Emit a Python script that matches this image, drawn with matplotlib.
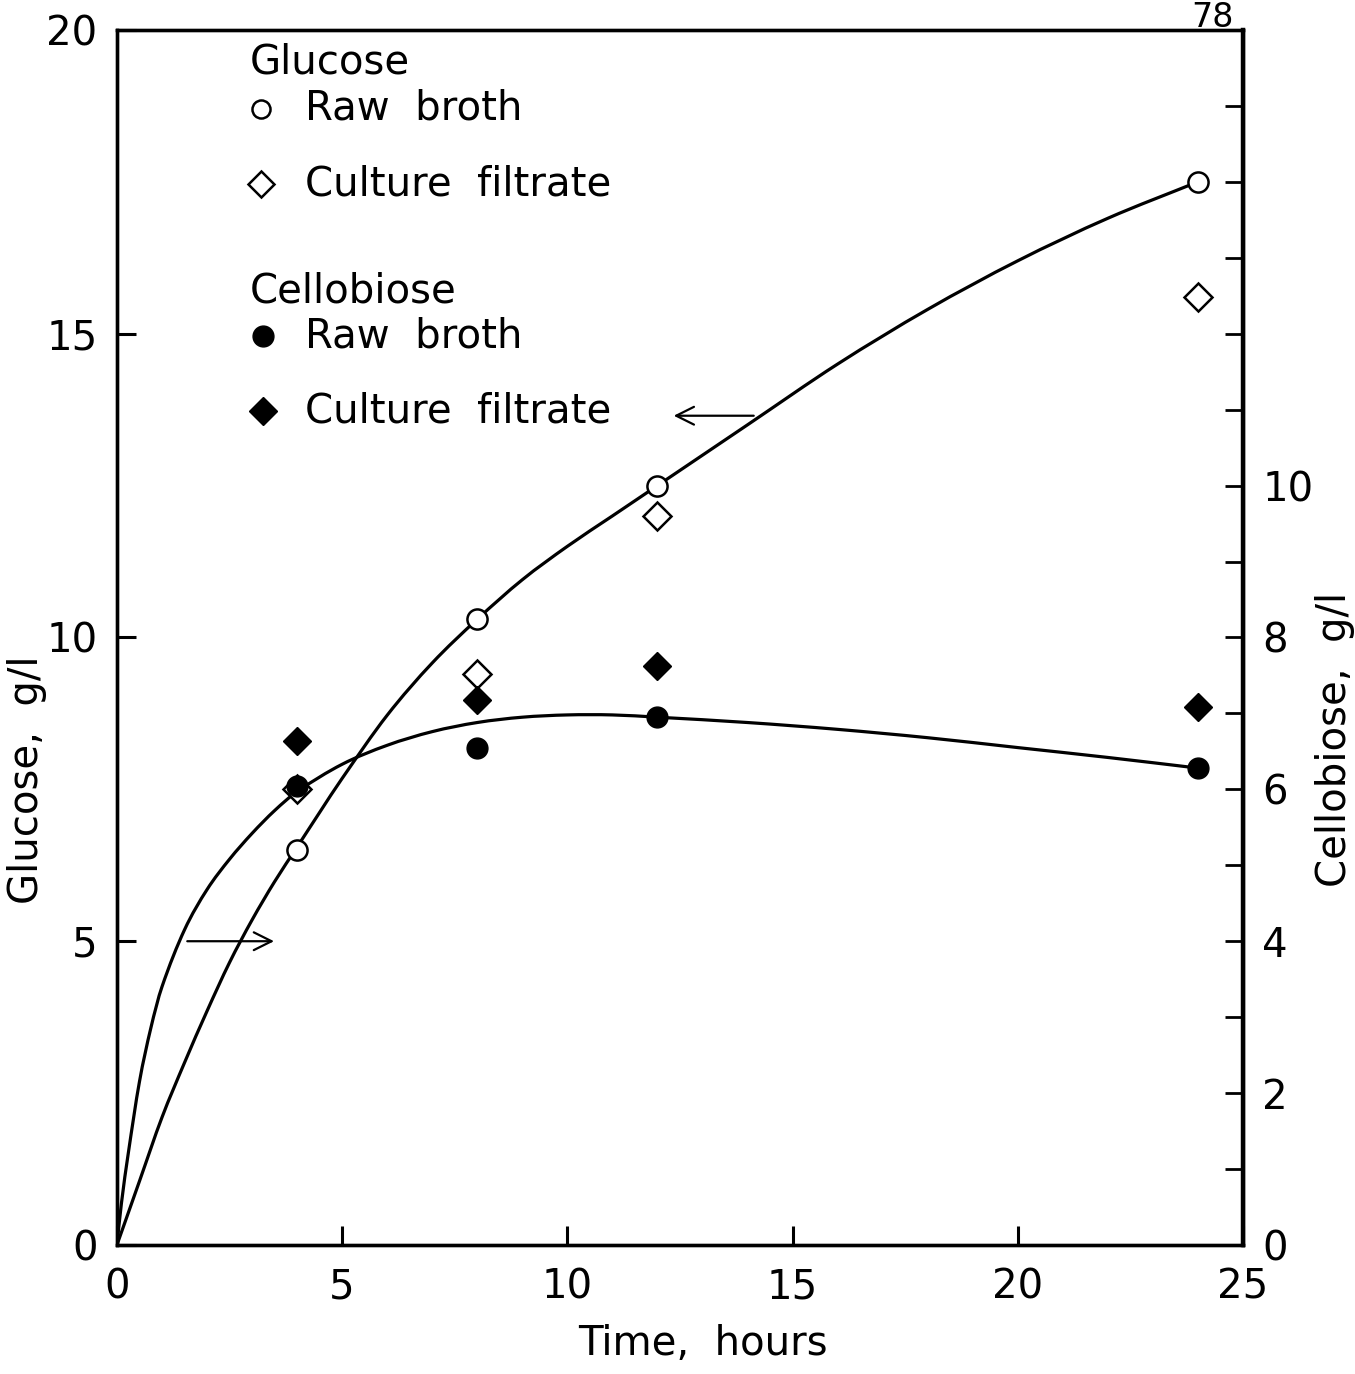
import matplotlib
matplotlib.use("Agg")
import matplotlib.pyplot as plt
from matplotlib.path import Path
from matplotlib.patches import PathPatch
from matplotlib.ticker import FixedLocator, NullFormatter

plt.rcParams['font.family'] = ['DejaVu Sans']

# Sampling times (h)
times = [4, 8, 12, 24]

# Glucose, g/l (left axis)
glucose_raw = [6.5, 10.3, 12.5, 17.5]
glucose_filtrate = [7.5, 9.4, 12.0, 15.6]

# Cellobiose, g/l (right axis)
cellobiose_raw = [6.05, 6.55, 6.95, 6.28]
cellobiose_filtrate = [6.64, 7.17, 7.62, 7.09]

# Fitted trend curves
glucose_fit_t = [0, 0.5, 1, 1.5, 2, 2.5, 3, 3.5, 4, 4.5, 5, 6, 7, 8, 9, 10, 11, 12,
                 13, 14, 16, 18, 20, 22, 24]
glucose_fit = [0, 1.05, 2.1, 3.0, 3.85, 4.65, 5.35, 5.98, 6.55, 7.12, 7.68, 8.72,
               9.58, 10.3, 10.95, 11.5, 12.0, 12.5, 13.0, 13.5, 14.5, 15.4, 16.2,
               16.9, 17.5]
cellobiose_fit_t = [0, 0.1, 0.25, 0.5, 0.75, 1, 1.5, 2, 2.5, 3, 3.5, 4, 5, 6, 7, 8,
                    9, 10, 11, 12, 14, 16, 18, 20, 22, 24]
cellobiose_fit = [0, 0.55, 1.2, 2.15, 2.85, 3.4, 4.15, 4.68, 5.08, 5.42, 5.72, 5.97,
                  6.33, 6.58, 6.76, 6.88, 6.95, 6.98, 6.98, 6.95, 6.88, 6.79, 6.68,
                  6.55, 6.42, 6.28]

x_ticks = [0, 5, 10, 15, 20, 25]
glucose_ticks = [0, 5, 10, 15, 20]
cellobiose_ticks = [0, 2, 4, 6, 8, 10]

FS = 29
LW = 2.3


def smooth_curve(axis, xs, ys, transform, **kw):
    """Draw a smooth Catmull-Rom curve through the given points as a Bezier path."""
    verts = [(xs[0], ys[0])]
    codes = [Path.MOVETO]
    n = len(xs)
    for i in range(n - 1):
        x0, y0 = (xs[i - 1], ys[i - 1]) if i > 0 else (xs[i], ys[i])
        x1, y1 = xs[i], ys[i]
        x2, y2 = xs[i + 1], ys[i + 1]
        x3, y3 = (xs[i + 2], ys[i + 2]) if i + 2 < n else (x2, y2)
        h = x2 - x1
        s1 = (y2 - y0) / (x2 - x0)
        s2 = (y3 - y1) / (x3 - x1)
        verts += [(x1 + h / 3, y1 + s1 * h / 3), (x2 - h / 3, y2 - s2 * h / 3),
                  (x2, y2)]
        codes += [Path.CURVE4] * 3
    patch = PathPatch(Path(verts, codes), fill=False, transform=transform, **kw)
    axis.add_patch(patch)


fig = plt.figure(figsize=(13.55, 13.74), dpi=100)
ax = fig.add_axes([0.0863, 0.0939, 0.831, 0.8843])
ax2 = ax.twinx()

ax.set_xlim(0, 25)
ax.set_ylim(0, 20)
ax2.set_ylim(0, 16)

# keep everything on the glucose axes so overlapping markers stack properly;
# cellobiose artists use the right-hand scale transform
ax.set_zorder(ax2.get_zorder() + 1)
ax.patch.set_visible(False)
cello = ax2.transData

# curves
smooth_curve(ax, glucose_fit_t, glucose_fit, ax.transData, edgecolor='black',
             lw=LW, joinstyle='round', zorder=2)
smooth_curve(ax, cellobiose_fit_t, cellobiose_fit, cello, edgecolor='black',
             lw=LW, joinstyle='round', zorder=2)

# data points
ax.plot(times, glucose_filtrate, 'D', ms=14.5, mfc='white', mec='black', mew=1.8,
        zorder=3)
ax.plot(times, cellobiose_filtrate, 'D', ms=14.5, mfc='black', mec='black',
        transform=cello, zorder=4)
ax.plot(times, cellobiose_raw, 'o', ms=15, mfc='black', mec='black',
        transform=cello, zorder=4)
ax.plot(times, glucose_raw, 'o', ms=14.5, mfc='white', mec='black', mew=1.8,
        zorder=5)

# arrows indicating which axis each curve belongs to
ax.annotate('', xy=(12.3, 13.65), xytext=(14.2, 13.65),
            arrowprops=dict(arrowstyle='->', lw=1.6, color='black', mutation_scale=32))
ax.annotate('', xy=(3.55, 5.0), xytext=(1.5, 5.0),
            arrowprops=dict(arrowstyle='->', lw=1.6, color='black', mutation_scale=32))

# axes styling
for a in (ax, ax2):
    for s in a.spines.values():
        s.set_linewidth(2.4)
ax2.spines['right'].set_linewidth(3.2)

ax.set_xticks(x_ticks)
ax.set_yticks(glucose_ticks)
ax.tick_params(axis='both', direction='in', length=14, width=2.2, labelsize=FS,
               pad=14)
ax.tick_params(axis='x', pad=16)

ax2.yaxis.set_major_locator(FixedLocator(cellobiose_ticks))
ax2.yaxis.set_minor_locator(FixedLocator(list(range(0, 16))))
ax2.yaxis.set_minor_formatter(NullFormatter())
ax2.tick_params(axis='y', which='both', direction='in', length=13, width=2.0,
                labelsize=FS, pad=14)

ax.set_xlabel('Time,  hours', fontsize=FS)
ax.xaxis.set_label_coords(0.52, -0.065)
ax.set_ylabel('Glucose,  g/l', fontsize=FS)
ax.yaxis.set_label_coords(-0.062, 0.383)
ax2.set_ylabel('Cellobiose,  g/l', fontsize=FS)
ax2.yaxis.set_label_coords(1.064, 0.416)

# key
key_x_marker = 0.128
key_x_text = 0.167
tr = ax.transAxes
ax.text(0.118, 0.973, 'Glucose', transform=tr, fontsize=FS, va='center')
ax.plot([key_x_marker], [0.935], 'o', ms=13, mfc='white', mec='black', mew=1.8,
        transform=tr, clip_on=False)
ax.text(key_x_text, 0.935, 'Raw  broth', transform=tr, fontsize=FS, va='center')
ax.plot([key_x_marker], [0.873], 'D', ms=13, mfc='white', mec='black', mew=1.8,
        transform=tr, clip_on=False)
ax.text(key_x_text, 0.873, 'Culture  filtrate', transform=tr, fontsize=FS,
        va='center')
ax.text(0.118, 0.785, 'Cellobiose', transform=tr, fontsize=FS, va='center')
ax.plot([key_x_marker + 0.002], [0.748], 'o', ms=15, mfc='black', mec='black',
        transform=tr, clip_on=False)
ax.text(key_x_text, 0.748, 'Raw  broth', transform=tr, fontsize=FS, va='center')
ax.plot([key_x_marker + 0.002], [0.686], 'D', ms=14, mfc='black', mec='black',
        transform=tr, clip_on=False)
ax.text(key_x_text, 0.686, 'Culture  filtrate', transform=tr, fontsize=FS,
        va='center')

fig.text(0.895, 0.999, '78', fontsize=24, va='top', ha='center')

fig.savefig('out.png', dpi=100, facecolor='white')
